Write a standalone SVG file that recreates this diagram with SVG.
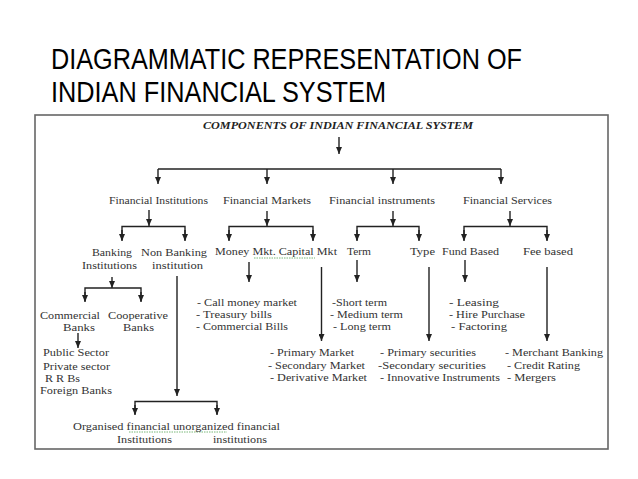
<svg xmlns="http://www.w3.org/2000/svg" width="638" height="479" viewBox="0 0 638 479">
<defs>
<marker id="ah" markerUnits="userSpaceOnUse" markerWidth="7" markerHeight="6" refX="7" refY="3" orient="auto">
<path d="M0,0 L7,3 L0,6 z" fill="#222"/>
</marker>
<style>
.t{font-family:"Liberation Sans",Arial,sans-serif;font-size:29px;fill:#000}
.d{font-family:"Liberation Serif","DejaVu Serif",serif;font-size:11px;fill:#333}
.h{font-family:"Liberation Serif","DejaVu Serif",serif;font-size:11px;font-weight:bold;font-style:italic;fill:#222}
.c line,.c path{stroke:#222;stroke-width:1.4;fill:none}
.a{marker-end:url(#ah)}
.sq{stroke:#7ab87a;stroke-width:1;stroke-dasharray:1.5 1;fill:none}
</style>
</defs>
<rect width="638" height="479" fill="#fff"/>
<g id="title">
<text class="t" x="51" y="69" textLength="471" lengthAdjust="spacingAndGlyphs">DIAGRAMMATIC REPRESENTATION OF</text>
<text class="t" x="51" y="102" textLength="335" lengthAdjust="spacingAndGlyphs">INDIAN FINANCIAL SYSTEM</text>
</g>
<rect id="frame" x="35" y="115" width="573" height="334" fill="none" stroke="#666" stroke-width="1.6"/>
<g class="c" id="connectors">
<line class="a" x1="339" y1="137" x2="339" y2="154"/>
<line x1="158" y1="169" x2="501" y2="169"/>
<line class="a" x1="158" y1="169" x2="158" y2="184"/>
<line class="a" x1="267" y1="169" x2="267" y2="184"/>
<line class="a" x1="393" y1="169" x2="393" y2="184"/>
<line class="a" x1="501" y1="169" x2="501" y2="184"/>
<line class="a" x1="149" y1="210" x2="149" y2="226"/>
<path d="M122,240 V226.5 H185 V240"/>
<line class="a" x1="122" y1="230" x2="122" y2="241"/>
<line class="a" x1="185" y1="230" x2="185" y2="241"/>
<line class="a" x1="112" y1="277" x2="112" y2="288"/>
<path d="M85,301 V288 H141 V301"/>
<line class="a" x1="85" y1="292" x2="85" y2="302"/>
<line class="a" x1="141" y1="292" x2="141" y2="302"/>
<line class="a" x1="78" y1="333" x2="78" y2="348"/>
<line class="a" x1="177" y1="276" x2="177" y2="396"/>
<path d="M135,414 V401.5 H217 V414"/>
<line class="a" x1="135" y1="405" x2="135" y2="415"/>
<line class="a" x1="217" y1="405" x2="217" y2="415"/>
<line class="a" x1="267" y1="211" x2="267" y2="226"/>
<path d="M229,240 V226.5 H313 V240"/>
<line class="a" x1="229" y1="230" x2="229" y2="241"/>
<line class="a" x1="313" y1="230" x2="313" y2="241"/>
<line class="a" x1="249" y1="262" x2="249" y2="282"/>
<line class="a" x1="321.5" y1="267" x2="321.5" y2="341"/>
<line class="a" x1="393" y1="211" x2="393" y2="226"/>
<path d="M357,240 V226.5 H419 V240"/>
<line class="a" x1="357" y1="230" x2="357" y2="241"/>
<line class="a" x1="419" y1="230" x2="419" y2="241"/>
<line class="a" x1="357" y1="260" x2="357" y2="282"/>
<line class="a" x1="429" y1="267" x2="429" y2="341"/>
<line class="a" x1="510" y1="211" x2="510" y2="226"/>
<path d="M464,240 V226.5 H547 V240"/>
<line class="a" x1="464" y1="230" x2="464" y2="241"/>
<line class="a" x1="547" y1="230" x2="547" y2="241"/>
<line class="a" x1="465" y1="260" x2="465" y2="282"/>
<line class="a" x1="547" y1="267" x2="547" y2="341"/>
</g>
<g id="squiggles">
<line class="sq" x1="254" y1="258" x2="315" y2="258"/>
<line class="sq" x1="129" y1="432" x2="227" y2="432"/>
</g>
<g id="root"><text class="h" x="203" y="128.5" textLength="270" lengthAdjust="spacingAndGlyphs">COMPONENTS OF INDIAN FINANCIAL SYSTEM</text></g>
<g id="fin-institutions"><text class="d" x="109" y="204" textLength="99" lengthAdjust="spacingAndGlyphs">Financial Institutions</text></g>
<g id="fin-markets"><text class="d" x="223" y="204" textLength="88" lengthAdjust="spacingAndGlyphs">Financial Markets</text></g>
<g id="fin-instruments"><text class="d" x="329" y="204" textLength="106" lengthAdjust="spacingAndGlyphs">Financial instruments</text></g>
<g id="fin-services"><text class="d" x="463" y="204" textLength="89" lengthAdjust="spacingAndGlyphs">Financial Services</text></g>
<g id="banking"><text class="d" x="92" y="256" textLength="40" lengthAdjust="spacingAndGlyphs">Banking</text><text class="d" x="82" y="268.5" textLength="55" lengthAdjust="spacingAndGlyphs">Institutions</text></g>
<g id="non-banking"><text class="d" x="141" y="256" textLength="66" lengthAdjust="spacingAndGlyphs">Non Banking</text><text class="d" x="152" y="268.5" textLength="51" lengthAdjust="spacingAndGlyphs">institution</text></g>
<g id="money-capital"><text class="d" x="215" y="255" textLength="122" lengthAdjust="spacingAndGlyphs">Money Mkt. Capital Mkt</text></g>
<g id="term"><text class="d" x="347" y="255" textLength="24" lengthAdjust="spacingAndGlyphs">Term</text></g>
<g id="type"><text class="d" x="410" y="255" textLength="25" lengthAdjust="spacingAndGlyphs">Type</text></g>
<g id="fund-based"><text class="d" x="442" y="255" textLength="57" lengthAdjust="spacingAndGlyphs">Fund Based</text></g>
<g id="fee-based"><text class="d" x="523" y="255" textLength="50" lengthAdjust="spacingAndGlyphs">Fee based</text></g>
<g id="commercial"><text class="d" x="40" y="318.5" textLength="60" lengthAdjust="spacingAndGlyphs">Commercial</text><text class="d" x="63" y="330.5" textLength="32" lengthAdjust="spacingAndGlyphs">Banks</text></g>
<g id="cooperative"><text class="d" x="108" y="318.5" textLength="60" lengthAdjust="spacingAndGlyphs">Cooperative</text><text class="d" x="123" y="330.5" textLength="31" lengthAdjust="spacingAndGlyphs">Banks</text></g>
<g id="bank-types">
<text class="d" x="43" y="356" textLength="66" lengthAdjust="spacingAndGlyphs">Public Sector</text>
<text class="d" x="43" y="369.5" textLength="67" lengthAdjust="spacingAndGlyphs">Private sector</text>
<text class="d" x="45" y="381.5" textLength="35" lengthAdjust="spacingAndGlyphs">R R Bs</text>
<text class="d" x="40" y="393.5" textLength="72" lengthAdjust="spacingAndGlyphs">Foreign Banks</text>
</g>
<g id="money-list">
<text class="d" x="197" y="306" textLength="100" lengthAdjust="spacingAndGlyphs">- Call money market</text>
<text class="d" x="196" y="317.5" textLength="76" lengthAdjust="spacingAndGlyphs">- Treasury bills</text>
<text class="d" x="196" y="330" textLength="92" lengthAdjust="spacingAndGlyphs">- Commercial Bills</text>
</g>
<g id="term-list">
<text class="d" x="332" y="306" textLength="55" lengthAdjust="spacingAndGlyphs">-Short term</text>
<text class="d" x="330" y="317.5" textLength="73" lengthAdjust="spacingAndGlyphs">- Medium term</text>
<text class="d" x="333" y="330" textLength="58" lengthAdjust="spacingAndGlyphs">- Long term</text>
</g>
<g id="fund-list">
<text class="d" x="449" y="306" textLength="50" lengthAdjust="spacingAndGlyphs">- Leasing</text>
<text class="d" x="449" y="317.5" textLength="76" lengthAdjust="spacingAndGlyphs">- Hire Purchase</text>
<text class="d" x="451" y="330" textLength="56" lengthAdjust="spacingAndGlyphs">- Factoring</text>
</g>
<g id="capital-list">
<text class="d" x="270" y="356" textLength="84" lengthAdjust="spacingAndGlyphs">- Primary Market</text>
<text class="d" x="268" y="369" textLength="97" lengthAdjust="spacingAndGlyphs">- Secondary Market</text>
<text class="d" x="270" y="381" textLength="97" lengthAdjust="spacingAndGlyphs">- Derivative Market</text>
</g>
<g id="type-list">
<text class="d" x="380" y="356" textLength="96" lengthAdjust="spacingAndGlyphs">- Primary securities</text>
<text class="d" x="378" y="369" textLength="108" lengthAdjust="spacingAndGlyphs">-Secondary securities</text>
<text class="d" x="380" y="381" textLength="120" lengthAdjust="spacingAndGlyphs">- Innovative Instruments</text>
</g>
<g id="fee-list">
<text class="d" x="505" y="356" textLength="98" lengthAdjust="spacingAndGlyphs">- Merchant Banking</text>
<text class="d" x="507" y="369" textLength="73" lengthAdjust="spacingAndGlyphs">- Credit Rating</text>
<text class="d" x="507" y="381" textLength="49" lengthAdjust="spacingAndGlyphs">- Mergers</text>
</g>
<g id="org-unorg">
<text class="d" x="73" y="430" textLength="207" lengthAdjust="spacingAndGlyphs">Organised financial  unorganized financial</text>
<text class="d" x="117" y="442.5" textLength="55" lengthAdjust="spacingAndGlyphs">Institutions</text>
<text class="d" x="213" y="442.5" textLength="54" lengthAdjust="spacingAndGlyphs">institutions</text>
</g>
</svg>
